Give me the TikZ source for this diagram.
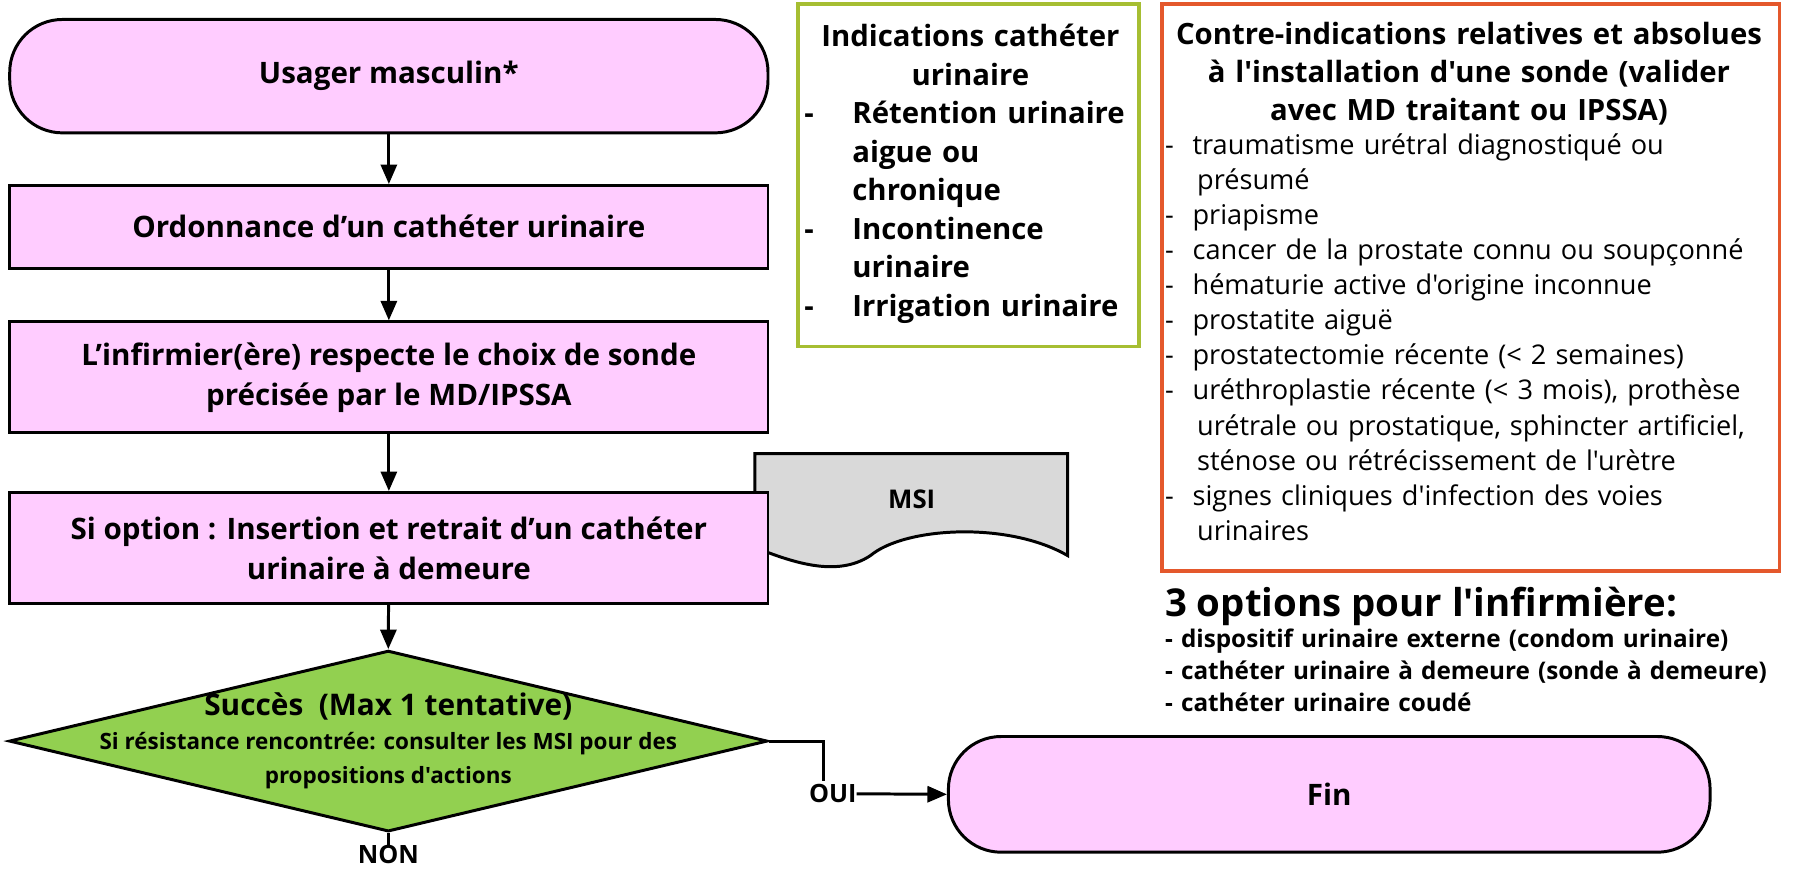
\documentclass[tikz,border=0pt]{standalone}
\usepackage{fontspec}
\setmainfont{Open Sans}[Ligatures=TeXOff]
\usetikzlibrary{shapes.geometric,arrows.meta}
\definecolor{pinkf}{RGB}{255,204,255}
\definecolor{diagreen}{RGB}{146,208,80}
\definecolor{boxgreen}{RGB}{166,190,50}
\definecolor{boxorange}{RGB}{228,88,44}
\definecolor{msigray}{RGB}{217,217,217}
\begin{document}
\begin{tikzpicture}[x=1pt,y=-1pt,
  proc/.style={draw=black, line width=2.6pt, fill=pinkf, minimum width=662pt, inner sep=0pt, align=center, font=\bfseries\fontsize{25.8}{35}\selectfont},
  term/.style={proc, rounded corners=46pt},
  flow/.style={line width=2.6pt, -{Triangle[length=17pt,width=14pt]}},
  plain/.style={line width=2.6pt},
  lbl/.style={inner sep=0pt, font=\bfseries\fontsize{22}{24}\selectfont},
]
\useasboundingbox (0,0) rectangle (1568,762);
\fill[white] (0,0) rectangle (1568,762);

% flowchart
\node[term, minimum height=99pt] (start) at (339.5,66.5) {Usager masculin*};
\node[proc, minimum height=72pt] (ord) at (339.5,198) {Ordonnance d’un cathéter urinaire};
\node[proc, minimum height=97pt] (inf) at (339.5,329.5) {L’infirmier(ère) respecte le choix de sonde\\précisée par le MD/IPSSA};

% MSI document (behind)
\path[draw=black, line width=2.6pt, fill=msigray] (659,396) -- (932,396) -- (932,485)
   .. controls (880,455) and (790,460) .. (760,485)
   .. controls (730,505) and (690,490) .. (659,478) -- cycle;
\node[inner sep=0pt, font=\bfseries\fontsize{22.5}{24}\selectfont] (msi) at (796,436) {MSI};

\node[proc, minimum height=97pt] (opt) at (339.5,478.5) {Si option : Insertion et retrait d’un cathéter\\urinaire à demeure};

\node[diamond, draw=black, line width=2.6pt, fill=diagreen, minimum width=662pt, minimum height=158pt, inner sep=0pt] (dec) at (339,647) {};
\node[inner sep=0pt, font=\bfseries\fontsize{26}{28}\selectfont] (dec1) at (339,617) {Succès\ \ (Max 1 tentative)};
\node[inner sep=0pt, font=\bfseries\fontsize{19.6}{22}\selectfont] (dec2) at (339,649) {Si résistance rencontrée: consulter les MSI pour des};
\node[inner sep=0pt, font=\bfseries\fontsize{19.6}{22}\selectfont] (dec3) at (339,679) {propositions d'actions};

\node[term, minimum width=665pt, minimum height=101pt] (fin) at (1160.5,693.5) {Fin};

\node[lbl] (oui) at (727,693) {OUI};
\node[lbl, anchor=north] (non) at (339,738) {NON};

\draw[flow] (start) -- (ord);
\draw[flow] (ord) -- (inf);
\draw[flow] (inf) -- (opt);
\draw[flow] (opt) -- (dec.north);
\draw[plain] (dec.east) -| ([xshift=-8pt,yshift=3pt]oui.north);
\draw[flow] (oui.east) -- (fin.west);
\draw[plain] (dec.south) -- (non.north);

% indications box
\node[draw=boxgreen, line width=3pt, minimum width=298pt, minimum height=299pt, anchor=north west, inner sep=0pt] (ind) at (695,2) {};
\node[anchor=base west, inner sep=0pt, text width=290pt, align=left, font=\bfseries\fontsize{25.6}{33.6}\selectfont] (indt) at (702,41)
{{\centering Indications cathéter\\urinaire\par}
\makebox[42pt][l]{-}Rétention urinaire\\
\hspace*{42pt}aigue ou\\
\hspace*{42pt}chronique\\
\makebox[42pt][l]{-}Incontinence\\
\hspace*{42pt}urinaire\\
\makebox[42pt][l]{-}Irrigation urinaire};

% contre-indications box
\node[draw=boxorange, line width=3pt, minimum width=539pt, minimum height=495pt, anchor=north west, inner sep=0pt] (ci) at (1013,2) {};
\node[anchor=base, inner sep=0pt, text width=539pt, align=center, font=\bfseries\fontsize{25.6}{33.5}\selectfont] (cititle) at (1282.5,38.5)
{Contre-indications relatives et absolues\\à l'installation d'une sonde (valider\\avec MD traitant ou IPSSA)};
\node[anchor=base west, inner sep=0pt, text width=535pt, align=left, font=\fontsize{23.7}{30.6}\selectfont] (ciitems) at (1017,135)
{\makebox[24pt][l]{-}traumatisme urétral diagnostiqué ou\\
\hspace*{28pt}présumé\\
\makebox[24pt][l]{-}priapisme\\
\makebox[24pt][l]{-}cancer de la prostate connu ou soupçonné\\
\makebox[24pt][l]{-}hématurie active d'origine inconnue\\
\makebox[24pt][l]{-}prostatite aiguë\\
\makebox[24pt][l]{-}prostatectomie récente (< 2 semaines)\\
\makebox[24pt][l]{-}uréthroplastie récente (< 3 mois), prothèse\\
\hspace*{28pt}urétrale ou prostatique, sphincter artificiel,\\
\hspace*{28pt}sténose ou rétrécissement de l'urètre\\
\makebox[24pt][l]{-}signes cliniques d'infection des voies\\
\hspace*{28pt}urinaires};

% options
\node[anchor=base west, inner sep=0pt, font=\bfseries\fontsize{33.5}{36}\selectfont] (opttitle) at (1017,538) {3 options pour l'infirmière:};
\node[anchor=base west, inner sep=0pt, text width=545pt, align=left, font=\bfseries\fontsize{21.2}{28}\selectfont] (optitems) at (1017,565)
{- dispositif urinaire externe (condom urinaire)\\
- cathéter urinaire à demeure (sonde à demeure)\\
- cathéter urinaire coudé};
\end{tikzpicture}
\end{document}
